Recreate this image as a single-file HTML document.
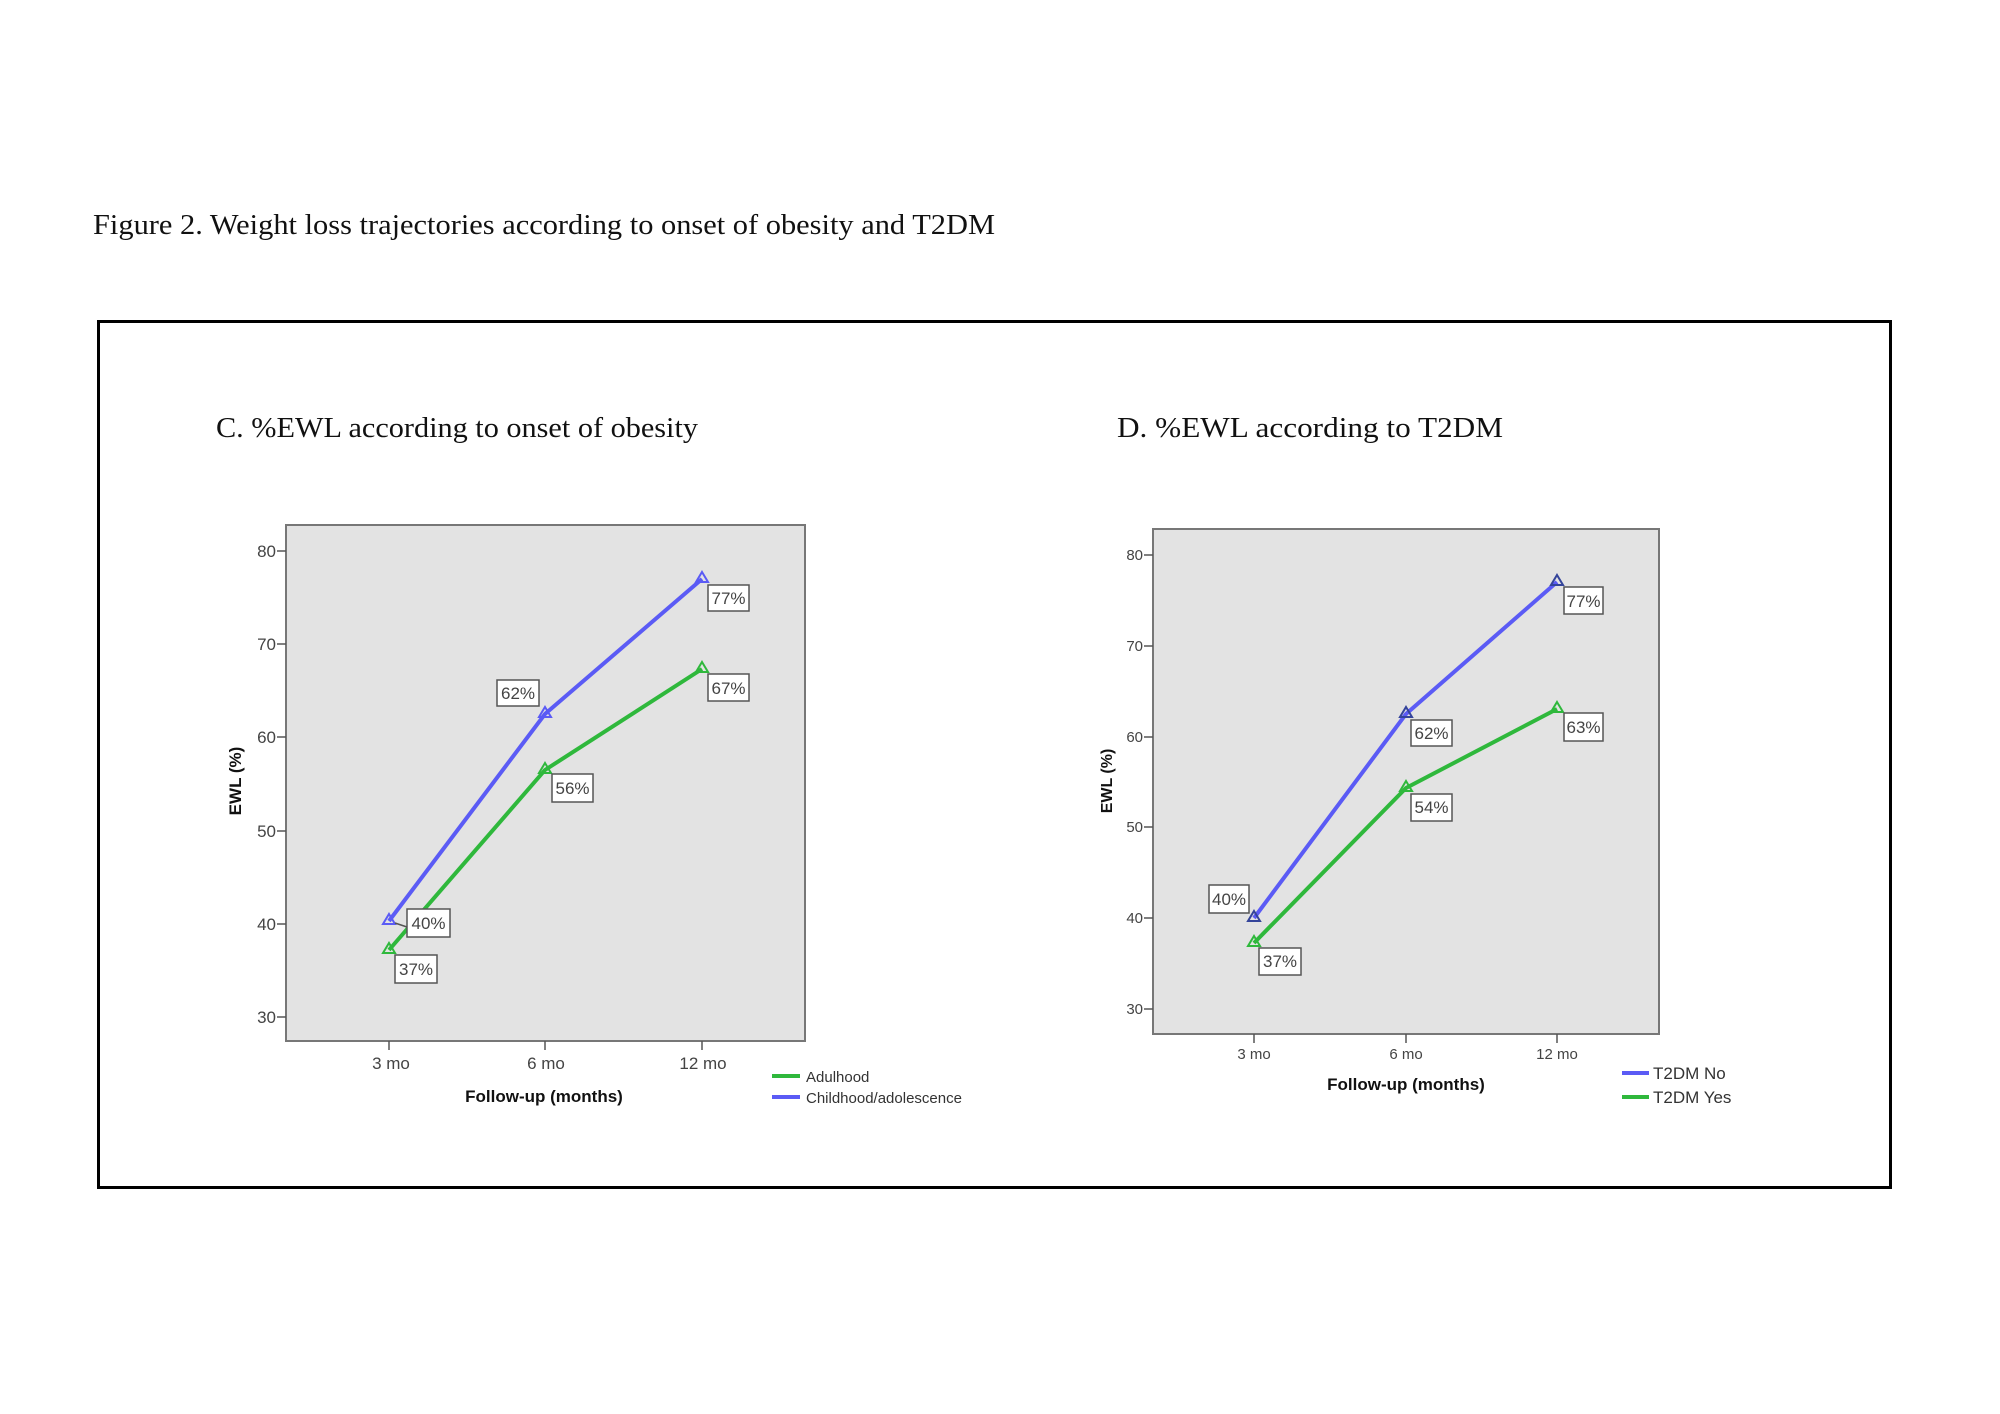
<!DOCTYPE html>
<html><head><meta charset="utf-8"><style>html,body{margin:0;padding:0;background:#fff}svg{display:block}</style></head>
<body>
<svg width="2000" height="1414" xmlns="http://www.w3.org/2000/svg" font-family="Liberation Sans, sans-serif">
<rect width="2000" height="1414" fill="#fff"/>
<text x="93" y="234" font-family="Liberation Serif, serif" font-size="29" textLength="902" lengthAdjust="spacingAndGlyphs" fill="#111">Figure 2. Weight loss trajectories according to onset of obesity and T2DM</text>
<rect x="98.5" y="321.5" width="1792" height="866" fill="none" stroke="#000" stroke-width="3"/>
<text x="216" y="437" font-family="Liberation Serif, serif" font-size="29" textLength="482" lengthAdjust="spacingAndGlyphs" fill="#111">C. %EWL according to onset of obesity</text>
<text x="1117" y="437" font-family="Liberation Serif, serif" font-size="29" textLength="386" lengthAdjust="spacingAndGlyphs" fill="#111">D. %EWL according to T2DM</text>

<!-- Panel C -->
<rect x="286" y="525" width="519" height="516" fill="#e3e3e3" stroke="#777" stroke-width="2"/>
<g stroke="#555" stroke-width="1.5">
<line x1="277" y1="551" x2="286" y2="551"/><line x1="277" y1="644" x2="286" y2="644"/><line x1="277" y1="737" x2="286" y2="737"/><line x1="277" y1="831" x2="286" y2="831"/><line x1="277" y1="924" x2="286" y2="924"/><line x1="277" y1="1017" x2="286" y2="1017"/>
<line x1="389" y1="1041" x2="389" y2="1050"/><line x1="545" y1="1041" x2="545" y2="1050"/><line x1="702" y1="1041" x2="702" y2="1050"/>
</g>
<g font-size="17" fill="#444" text-anchor="end">
<text x="276" y="557">80</text><text x="276" y="650">70</text><text x="276" y="743">60</text><text x="276" y="837">50</text><text x="276" y="930">40</text><text x="276" y="1023">30</text>
</g>
<g font-size="17" fill="#444" text-anchor="middle">
<text x="391" y="1069">3 mo</text><text x="546" y="1069">6 mo</text><text x="703" y="1069">12 mo</text>
</g>
<text x="544" y="1102" font-size="17" font-weight="bold" text-anchor="middle" fill="#111">Follow-up (months)</text>
<text transform="translate(241,781) rotate(-90)" font-size="17" font-weight="bold" text-anchor="middle" fill="#111">EWL  (%)</text>
<polyline points="389,921 545,714 702,579" fill="none" stroke="#5b5bf5" stroke-width="4"/>
<polyline points="389,950 545,770 702,669" fill="none" stroke="#2fb83c" stroke-width="4"/>
<g fill="none" stroke-width="2">
<path d="M389,914 l6,10 h-12z" stroke="#5b5bf5"/><path d="M545,707 l6,10 h-12z" stroke="#5b5bf5"/><path d="M702,572 l6,10 h-12z" stroke="#5b5bf5"/>
<path d="M389,943 l6,10 h-12z" stroke="#2fb83c"/><path d="M545,763 l6,10 h-12z" stroke="#2fb83c"/><path d="M702,662 l6,10 h-12z" stroke="#2fb83c"/>
</g>
<line x1="395" y1="923" x2="407" y2="927" stroke="#555" stroke-width="1.5"/>
<g fill="#fff" stroke="#555" stroke-width="1.5">
<rect x="708" y="585" width="41" height="26"/><rect x="708" y="674" width="41" height="27"/><rect x="497" y="680" width="42" height="26"/><rect x="552" y="774" width="41" height="28"/><rect x="407" y="909" width="43" height="28"/><rect x="395" y="955" width="42" height="28"/>
</g>
<g font-size="17" fill="#444" text-anchor="middle">
<text x="728.5" y="604">77%</text><text x="728.5" y="694">67%</text><text x="518" y="699">62%</text><text x="572.5" y="794">56%</text><text x="428.5" y="929">40%</text><text x="416" y="975">37%</text>
</g>
<line x1="772" y1="1076" x2="800" y2="1076" stroke="#2fb83c" stroke-width="4"/>
<line x1="772" y1="1097" x2="800" y2="1097" stroke="#5b5bf5" stroke-width="4"/>
<text x="806" y="1082" font-size="15" fill="#333">Adulhood</text>
<text x="806" y="1103" font-size="15" fill="#333">Childhood/adolescence</text>

<!-- Panel D -->
<rect x="1153" y="529" width="506" height="505" fill="#e3e3e3" stroke="#777" stroke-width="2"/>
<g stroke="#555" stroke-width="1.5">
<line x1="1144" y1="555" x2="1153" y2="555"/><line x1="1144" y1="646" x2="1153" y2="646"/><line x1="1144" y1="737" x2="1153" y2="737"/><line x1="1144" y1="827" x2="1153" y2="827"/><line x1="1144" y1="918" x2="1153" y2="918"/><line x1="1144" y1="1009" x2="1153" y2="1009"/>
<line x1="1254" y1="1034" x2="1254" y2="1043"/><line x1="1406" y1="1034" x2="1406" y2="1043"/><line x1="1557" y1="1034" x2="1557" y2="1043"/>
</g>
<g font-size="15" fill="#444" text-anchor="end">
<text x="1143" y="560">80</text><text x="1143" y="651">70</text><text x="1143" y="742">60</text><text x="1143" y="832">50</text><text x="1143" y="923">40</text><text x="1143" y="1014">30</text>
</g>
<g font-size="15" fill="#444" text-anchor="middle">
<text x="1254" y="1059">3 mo</text><text x="1406" y="1059">6 mo</text><text x="1557" y="1059">12 mo</text>
</g>
<text x="1406" y="1090" font-size="17" font-weight="bold" text-anchor="middle" fill="#111">Follow-up (months)</text>
<text transform="translate(1112,781) rotate(-90)" font-size="16" font-weight="bold" text-anchor="middle" fill="#111">EWL (%)</text>
<polyline points="1254,918 1406,714 1557,582" fill="none" stroke="#5b5bf5" stroke-width="4"/>
<polyline points="1254,943 1406,788 1557,709" fill="none" stroke="#2fb83c" stroke-width="4"/>
<g fill="none" stroke-width="2">
<path d="M1254,911 l6,10 h-12z" stroke="#34449a"/><path d="M1406,707 l6,10 h-12z" stroke="#34449a"/><path d="M1557,575 l6,10 h-12z" stroke="#34449a"/>
<path d="M1254,936 l6,10 h-12z" stroke="#2fb83c"/><path d="M1406,781 l6,10 h-12z" stroke="#2fb83c"/><path d="M1557,702 l6,10 h-12z" stroke="#2fb83c"/>
</g>
<g fill="#fff" stroke="#555" stroke-width="1.5">
<rect x="1564" y="587" width="39" height="27"/><rect x="1564" y="713" width="39" height="28"/><rect x="1411" y="720" width="41" height="26"/><rect x="1411" y="794" width="41" height="27"/><rect x="1209" y="885" width="40" height="28"/><rect x="1259" y="948" width="42" height="27"/>
</g>
<g font-size="17" fill="#444" text-anchor="middle">
<text x="1583.5" y="607">77%</text><text x="1583.5" y="733">63%</text><text x="1431.5" y="739">62%</text><text x="1431.5" y="813">54%</text><text x="1229" y="905">40%</text><text x="1280" y="967">37%</text>
</g>
<line x1="1622" y1="1073" x2="1649" y2="1073" stroke="#5b5bf5" stroke-width="4"/>
<line x1="1622" y1="1097" x2="1649" y2="1097" stroke="#2fb83c" stroke-width="4"/>
<text x="1653" y="1079" font-size="17" fill="#333">T2DM No</text>
<text x="1653" y="1103" font-size="17" fill="#333">T2DM Yes</text>
</svg>
</body></html>
